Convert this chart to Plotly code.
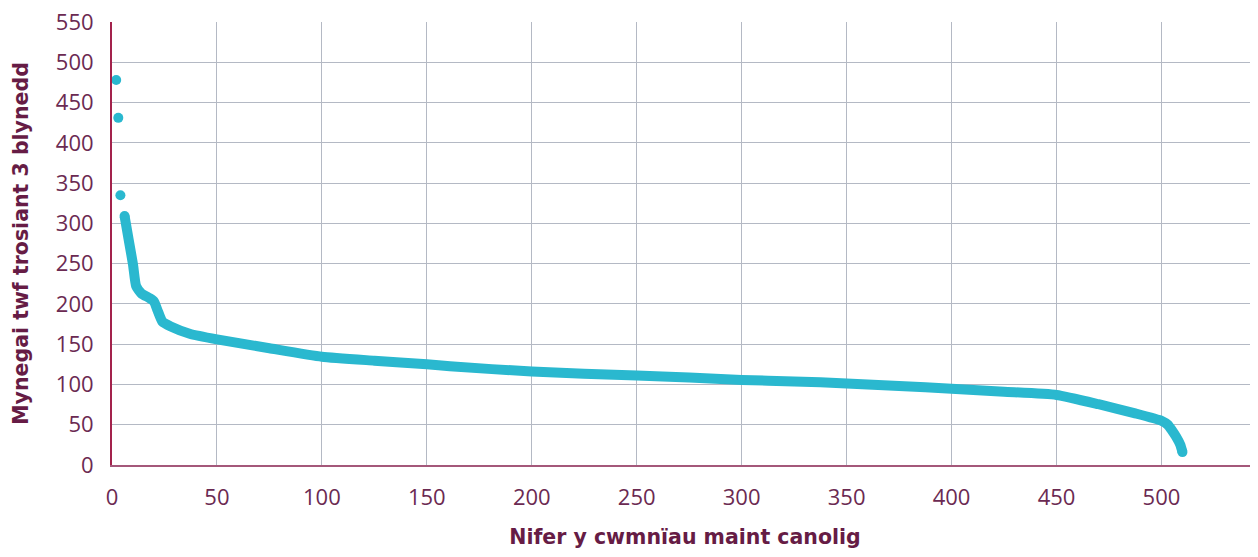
import plotly.graph_objects as go

# Top outliers (separate dots)
top_x = [2, 3, 4]
top_y = [478, 431, 335]

# Main ranked curve
curve_x = [6, 8, 10, 11.5, 14, 18, 20, 21.7, 24, 28, 37, 50, 75, 100, 125, 150, 161,
           200, 250, 275, 300, 325, 350, 375, 400, 425, 450, 470, 487, 500, 503,
           505, 507, 509, 510]
curve_y = [309, 279, 249, 222, 213, 207, 203, 192, 178, 172, 163, 156, 145, 134.5, 129.5,
           125, 122.5, 116, 111, 108.5, 105.5, 103.8, 101.3, 98.2, 94.8, 91, 87,
           75.5, 64.5, 55, 50, 43, 35, 25, 16]

x_ticks = [0, 50, 100, 150, 200, 250, 300, 350, 400, 450, 500]
y_ticks = [0, 50, 100, 150, 200, 250, 300, 350, 400, 450, 500, 550]

teal = "#2ab8cf"
tick_col = "#6b2a52"
title_col = "#661c45"
grid_col = "#b4b9c4"
tick_font = dict(family="Open Sans", size=22, color=tick_col)
title_font = dict(family="DejaVu Sans", size=20.5, color=title_col)

fig = go.Figure()
fig.add_trace(go.Scatter(x=curve_x, y=curve_y, mode="lines",
                         line=dict(color=teal, width=10, shape="spline", smoothing=0.5),
                         showlegend=False, cliponaxis=False))
fig.add_trace(go.Scatter(x=top_x + [curve_x[0], curve_x[-1]],
                         y=top_y + [curve_y[0], curve_y[-1]], mode="markers",
                         marker=dict(color=teal, size=10), showlegend=False,
                         cliponaxis=False))

# Note: the page body has an 8px default margin, so margins are offset by 8px.
fig.update_layout(
    width=1258, height=557,
    margin=dict(l=104, r=8, t=14, b=100),
    paper_bgcolor="white", plot_bgcolor="white",
    font=dict(family="Open Sans", color=tick_col, size=20),
    xaxis=dict(range=[0, 546], tickvals=x_ticks, showgrid=True, gridcolor=grid_col,
               gridwidth=1, zeroline=False, showline=True, linecolor="#a4587a",
               linewidth=2, ticks="", ticklabelstandoff=12, automargin=False,
               ticklabeloverflow="allow", tickfont=tick_font,
               title=dict(text="<b>Nifer y cwmnïau maint canolig</b>", standoff=19,
                          font=title_font)),
    yaxis=dict(range=[0, 550], tickvals=y_ticks, showgrid=True, gridcolor=grid_col,
               gridwidth=1, zeroline=False, showline=True, linecolor="#a3224c",
               linewidth=2, ticks="", ticklabelstandoff=12, automargin=False,
               ticklabeloverflow="allow", tickfont=tick_font,
               title=dict(text="<b>Mynegai twf trosiant 3 blynedd</b>", standoff=22,
                          font=title_font)),
)

fig.write_html("out.html")
